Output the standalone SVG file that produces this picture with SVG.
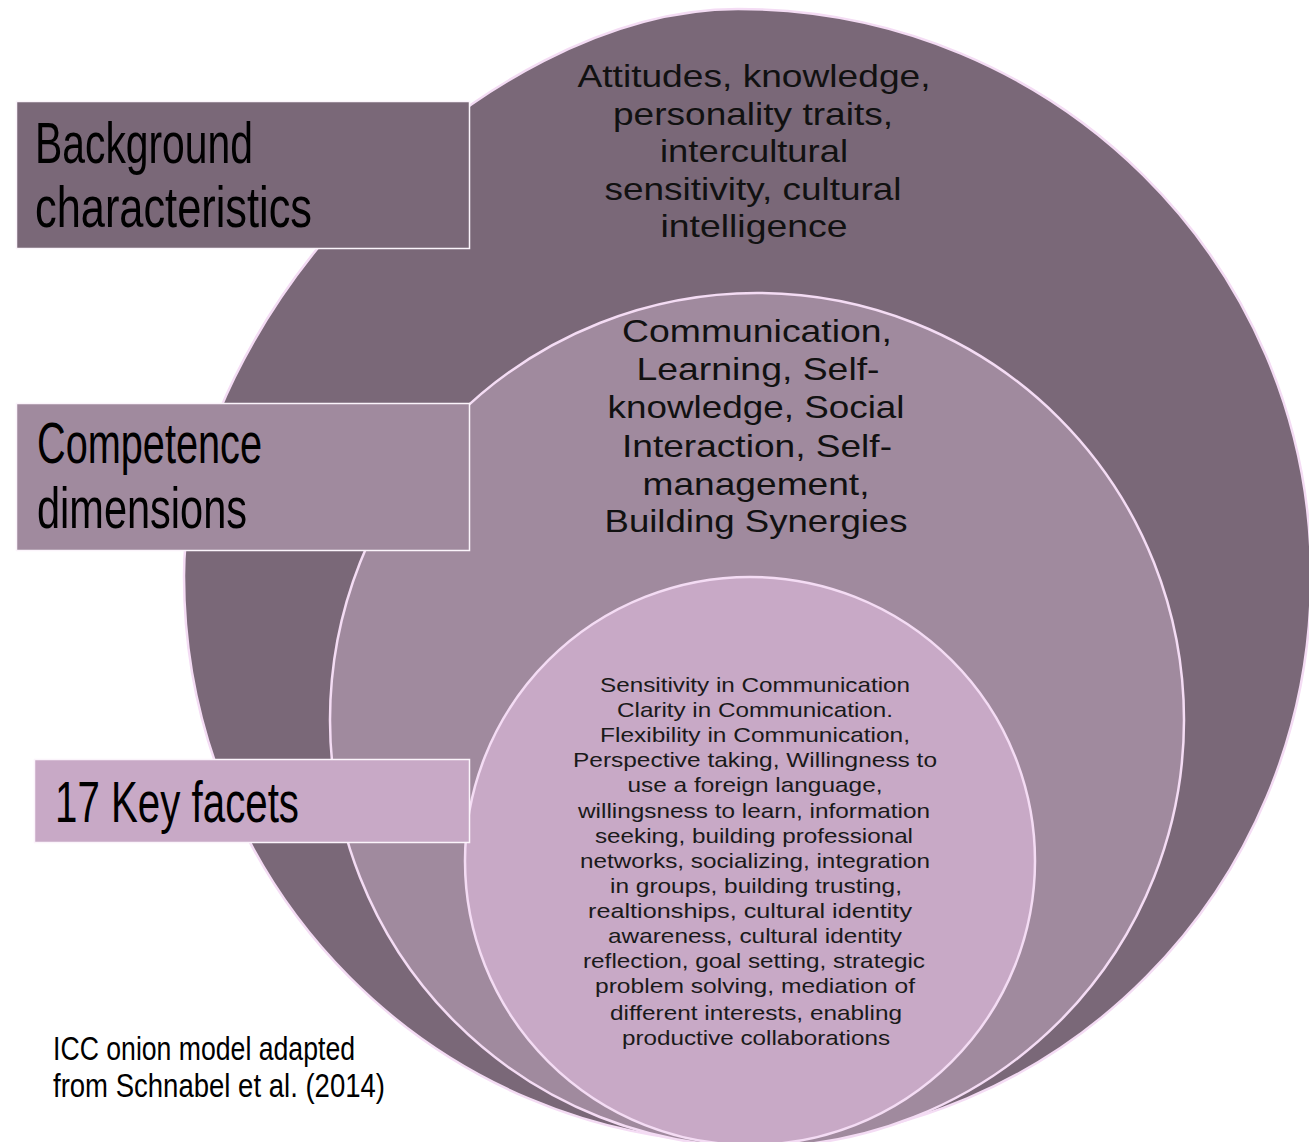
<svg xmlns="http://www.w3.org/2000/svg" width="1309" height="1142" viewBox="0 0 1309 1142">
<style>
.ring{stroke:#f4dcf4;stroke-width:2.5}
.r1{fill:#7a6878}.r2{fill:#a08a9e}.r3{fill:#c8a9c6}
.box{stroke:#fbf4fb;stroke-width:1.5}
.lbl{font-family:"Liberation Sans Narrow","Liberation Sans",sans-serif;font-size:57px;fill:#000}
.cap{font-family:"Liberation Sans Narrow","Liberation Sans",sans-serif;font-size:34px;fill:#000}
.big{font-family:"Liberation Sans",Arial,sans-serif;font-size:32px;fill:#111;text-anchor:middle}
.small{font-family:"Liberation Sans",Arial,sans-serif;font-size:21px;fill:#1a1a1a;text-anchor:middle}
</style>
<rect width="1309" height="1142" fill="#fff"/>
<g id="ring-outer">
<path class="ring r1" d="M738,9 C1054.5,9 1311,262.9 1311,576 C1311,889.2 1059,1143 748,1143 C436.5,1143 184,889.2 184,576 C184,315 483,9 738,9 Z"/>
<text class="big" x="754" y="87" textLength="353" lengthAdjust="spacingAndGlyphs">Attitudes, knowledge,</text>
<text class="big" x="753" y="125" textLength="280" lengthAdjust="spacingAndGlyphs">personality traits,</text>
<text class="big" x="754" y="162" textLength="188" lengthAdjust="spacingAndGlyphs">intercultural</text>
<text class="big" x="753" y="200" textLength="297" lengthAdjust="spacingAndGlyphs">sensitivity, cultural</text>
<text class="big" x="754" y="237" textLength="187" lengthAdjust="spacingAndGlyphs">intelligence</text>
</g>
<g id="ring-middle">
<ellipse class="ring r2" cx="757" cy="720" rx="427" ry="427"/>
<text class="big" x="757" y="342" textLength="270" lengthAdjust="spacingAndGlyphs">Communication,</text>
<text class="big" x="758" y="380" textLength="243" lengthAdjust="spacingAndGlyphs">Learning, Self-</text>
<text class="big" x="756" y="418" textLength="297" lengthAdjust="spacingAndGlyphs">knowledge, Social</text>
<text class="big" x="757" y="457" textLength="270" lengthAdjust="spacingAndGlyphs">Interaction, Self-</text>
<text class="big" x="756" y="495" textLength="227" lengthAdjust="spacingAndGlyphs">management,</text>
<text class="big" x="756" y="532" textLength="303" lengthAdjust="spacingAndGlyphs">Building Synergies</text>
</g>
<g id="ring-inner">
<ellipse class="ring r3" cx="750" cy="861" rx="285" ry="284"/>
<text class="small" x="755" y="692" textLength="310" lengthAdjust="spacingAndGlyphs">Sensitivity in Communication</text>
<text class="small" x="755" y="717" textLength="276" lengthAdjust="spacingAndGlyphs">Clarity in Communication.</text>
<text class="small" x="755" y="742" textLength="310" lengthAdjust="spacingAndGlyphs">Flexibility in Communication,</text>
<text class="small" x="755" y="767" textLength="364" lengthAdjust="spacingAndGlyphs">Perspective taking, Willingness to</text>
<text class="small" x="755" y="792" textLength="255" lengthAdjust="spacingAndGlyphs">use a foreign language,</text>
<text class="small" x="754" y="818" textLength="352" lengthAdjust="spacingAndGlyphs">willingsness to learn, information</text>
<text class="small" x="754" y="843" textLength="318" lengthAdjust="spacingAndGlyphs">seeking, building professional</text>
<text class="small" x="755" y="868" textLength="350" lengthAdjust="spacingAndGlyphs">networks, socializing, integration</text>
<text class="small" x="756" y="893" textLength="292" lengthAdjust="spacingAndGlyphs">in groups, building trusting,</text>
<text class="small" x="750" y="918" textLength="324" lengthAdjust="spacingAndGlyphs">realtionships, cultural identity</text>
<text class="small" x="755" y="943" textLength="294" lengthAdjust="spacingAndGlyphs">awareness, cultural identity</text>
<text class="small" x="754" y="968" textLength="342" lengthAdjust="spacingAndGlyphs">reflection, goal setting, strategic</text>
<text class="small" x="755" y="993" textLength="320" lengthAdjust="spacingAndGlyphs">problem solving, mediation of</text>
<text class="small" x="756" y="1020" textLength="292" lengthAdjust="spacingAndGlyphs">different interests, enabling</text>
<text class="small" x="756" y="1045" textLength="268" lengthAdjust="spacingAndGlyphs">productive collaborations</text>
</g>
<g id="box-background">
<rect class="box r1" x="16.5" y="101.5" width="453" height="147"/>
<text class="lbl" x="35" y="163" textLength="218" lengthAdjust="spacingAndGlyphs">Background</text>
<text class="lbl" x="35" y="227" textLength="277" lengthAdjust="spacingAndGlyphs">characteristics</text>
</g>
<g id="box-competence">
<rect class="box r2" x="16.5" y="403.5" width="453" height="147"/>
<text class="lbl" x="37" y="463" textLength="225" lengthAdjust="spacingAndGlyphs">Competence</text>
<text class="lbl" x="37" y="528" textLength="210" lengthAdjust="spacingAndGlyphs">dimensions</text>
</g>
<g id="box-facets">
<rect class="box r3" x="34.5" y="759.5" width="435" height="83"/>
<text class="lbl" x="55" y="822" textLength="244" lengthAdjust="spacingAndGlyphs">17 Key facets</text>
</g>
<g id="caption">
<text class="cap" x="53" y="1060" textLength="302" lengthAdjust="spacingAndGlyphs">ICC onion model adapted</text>
<text class="cap" x="53" y="1097" textLength="332" lengthAdjust="spacingAndGlyphs">from Schnabel et al. (2014)</text>
</g>
<g id="connectors"/>
</svg>
